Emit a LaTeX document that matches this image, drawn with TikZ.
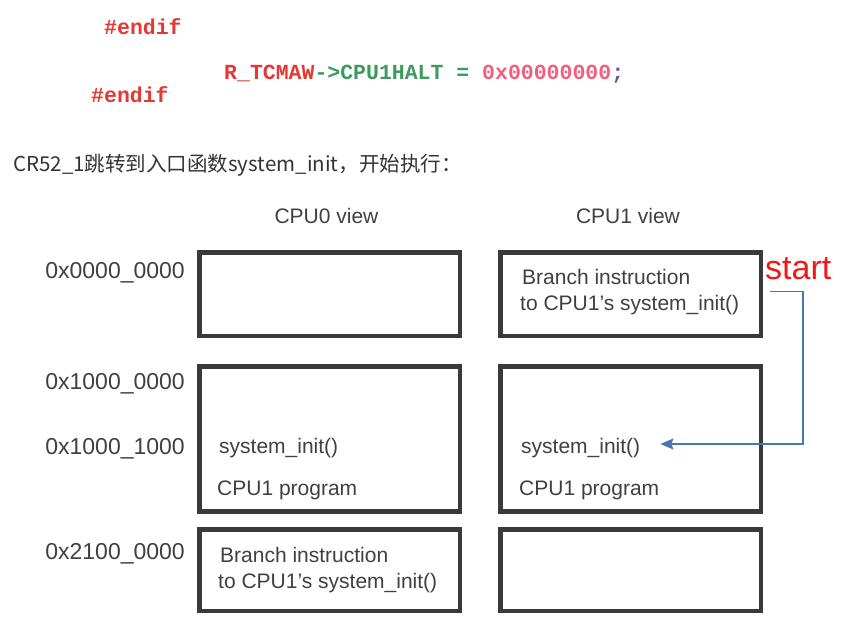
\documentclass[tikz,border=0pt]{standalone}
\usepackage{fontspec}
\setmainfont{Liberation Sans}
\newfontfamily\codefont{Liberation Mono}
\newfontfamily\cjkfont{Noto Sans CJK SC}
\usetikzlibrary{arrows.meta}
\definecolor{boxgray}{HTML}{3A3A3A}
\definecolor{txtgray}{HTML}{404040}
\definecolor{cjkgray}{HTML}{333333}
\definecolor{codered}{HTML}{E23A33}
\definecolor{codegreen}{HTML}{3E9A5C}
\definecolor{codepink}{HTML}{F0607E}
\definecolor{codepurple}{HTML}{7A4E9E}
\definecolor{arrowblue}{HTML}{4A74B4}
\definecolor{startred}{HTML}{F01818}
\begin{document}
\begin{tikzpicture}[x=1pt,y=-1pt,
  membox/.style={draw=boxgray, line width=4.5pt, rectangle, inner sep=0pt, minimum width=260.5pt},
  dtext/.style={inner sep=0pt, text=txtgray, font=\fontsize{21}{25}\selectfont},
  addr/.style={inner sep=0pt, text=txtgray, anchor=base east, font=\fontsize{23}{27}\selectfont},
  code/.style={inner sep=0pt, anchor=base west, font=\codefont\bfseries\fontsize{21.5}{25}\selectfont},
  jump/.style={draw=arrowblue, line width=1.2pt, -{Stealth[length=13pt,width=11pt,inset=2pt]}}
]
\useasboundingbox (0,0) rectangle (853,630);
\fill[white] (0,0) rectangle (853,630);

% code lines
\node[code, text=codered] (endif1) at (104,34) {\#endif};
\node[code] (codeline) at (224,79) {\textcolor{codered}{R\_TCMAW}\textcolor{codegreen}{->CPU1HALT = }\textcolor{codepink}{0x00000000}\textcolor{codepurple}{;}};
\node[code, text=codered] (endif2) at (91,102) {\#endif};

% chinese line
\node[inner sep=0pt, anchor=base west, text=cjkgray, font=\cjkfont\fontsize{20.5}{24}\selectfont] (intro) at (13,171) {CR52\_1跳转到入口函数system\_init，开始执行：};

% column headers
\node[dtext, anchor=base] (h0) at (326.5,223) {CPU0 view};
\node[dtext, anchor=base] (h1) at (628,223) {CPU1 view};

% address labels
\node[addr] (a1) at (185,278) {0x0000\_0000};
\node[addr] (a2) at (185,389) {0x1000\_0000};
\node[addr] (a3) at (185,454) {0x1000\_1000};
\node[addr] (a4) at (185,559) {0x2100\_0000};

% boxes
\node[membox, minimum height=83.5pt] (b1l) at (329.75,294.25) {};
\node[membox, minimum height=145pt] (b2l) at (329.75,439) {};
\node[membox, minimum height=81.5pt] (b3l) at (329.75,570.25) {};
\node[membox, minimum height=83.5pt] (b1r) at (630.5,294.25) {};
\node[membox, minimum height=145pt] (b2r) at (630.5,439) {};
\node[membox, minimum height=81.5pt] (b3r) at (630.5,570.25) {};

% box texts
\node[dtext, anchor=base west] (br1a) at (522,284) {Branch instruction};
\node[dtext, anchor=base west] (br1b) at (520,310) {to CPU1’s system\_init()};
\node[dtext, anchor=base west] (si0) at (219,453) {system\_init()};
\node[dtext, anchor=base west] (pg0) at (217,495) {CPU1 program};
\node[dtext, anchor=base west] (si1) at (521,453) {system\_init()};
\node[dtext, anchor=base west] (pg1) at (519,495) {CPU1 program};
\node[dtext, anchor=base west] (br0a) at (220,562) {Branch instruction};
\node[dtext, anchor=base west] (br0b) at (218,588) {to CPU1’s system\_init()};

% start label
\node[inner sep=0pt, anchor=base west, text=startred, font=\fontsize{34}{39}\selectfont] (start) at (765,279) {start};

% jump arrow
\coordinate (jstart) at ([xshift=7pt,yshift=3pt]b1r.east);
\coordinate (jend) at ([xshift=20pt]si1.east |- 0,444);
\draw[jump] (jstart) -| (803,444) -- (jend);
\end{tikzpicture}
\end{document}
